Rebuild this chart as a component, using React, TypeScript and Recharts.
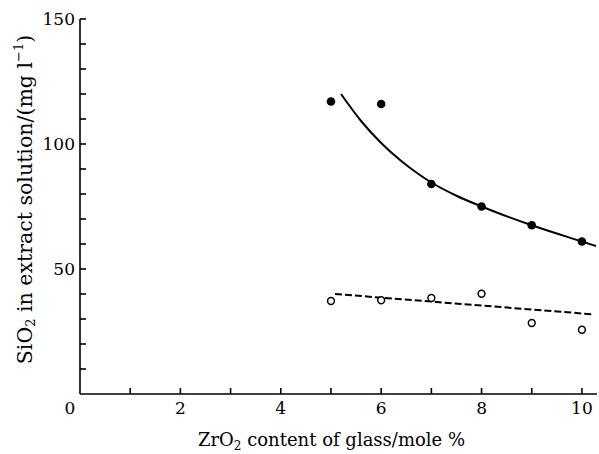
import React from "react";
import { ComposedChart, XAxis, YAxis, Scatter, Line } from "recharts";

// Filled circles (upper series)
const filledX = [5, 6, 7, 8, 9, 10];
const filledY = [117, 116, 84, 75, 67.5, 61];

// Open circles (lower series)
const openX = [5, 6, 7, 8, 9, 10];
const openY = [37.2, 37.5, 38.4, 40.1, 28.4, 25.7];

// Solid fitted curve through upper series
const curveX = [5.2, 5.6, 6.0, 6.4, 6.8, 7.0, 7.5, 8, 9, 10, 10.28];
const curveY = [120, 109.2, 100.4, 93.2, 87.2, 84.6, 79.3, 75, 67.5, 61, 59.2];

// Dashed fitted line through lower series
const dashX = [5.08, 10.2];
const dashY = [40, 31.9];

const xTicks = [0, 1, 2, 3, 4, 5, 6, 7, 8, 9, 10];
const xLabels = [0, 2, 4, 6, 8, 10];
const yTicks = [0, 10, 20, 30, 40, 50, 60, 70, 80, 90, 100, 110, 120, 130, 140, 150];
const yLabels = [50, 100, 150];

const FONT = "'DejaVu Serif', 'Liberation Serif', serif";

const filled = filledX.map((x, i) => ({ x, y: filledY[i] }));
const open = openX.map((x, i) => ({ x, y: openY[i] }));
const curve = curveX.map((x, i) => ({ x, y: curveY[i] }));
const dash = dashX.map((x, i) => ({ x, y: dashY[i] }));

const XTick = (props: any) => {
  const { x, y, payload } = props;
  const v = payload.value;
  const show = xLabels.includes(v);
  return (
    <g>
      {v !== 0 && <line x1={x} y1={y} x2={x} y2={y - 6} stroke="#000" strokeWidth={1.6} />}
      {show && (
        <text x={v === 0 ? x - 10 : x} y={y + 20} textAnchor="middle" fontFamily={FONT} fontSize={17} fill="#000">
          {v}
        </text>
      )}
    </g>
  );
};

const YTick = (props: any) => {
  const { x, y, payload } = props;
  const v = payload.value;
  const show = yLabels.includes(v);
  return (
    <g>
      {v !== 0 && <line x1={x} y1={y} x2={x + 6} y2={y} stroke="#000" strokeWidth={1.6} />}
      {show && (
        <text x={x - 5} y={y} dy="0.35em" textAnchor="end" fontFamily={FONT} fontSize={17} fill="#000">
          {v}
        </text>
      )}
    </g>
  );
};

const XTitle = (props: any) => {
  const { viewBox } = props;
  const cx = viewBox.x + viewBox.width / 2 - 7;
  return (
    <text x={cx} y={viewBox.y + 52} textAnchor="middle" fontFamily={FONT} fontSize={18} fill="#000">
      ZrO<tspan fontSize={12} dy={4}>2</tspan>
      <tspan dy={-4}> content of glass/mole %</tspan>
    </text>
  );
};

const YTitle = (props: any) => {
  const { viewBox } = props;
  const cy = viewBox.y + viewBox.height / 2 - 7;
  const cx = 25;
  return (
    <text
      x={cx}
      y={cy}
      transform={`rotate(-90, ${cx}, ${cy})`}
      textAnchor="middle"
      dominantBaseline="central"
      fontFamily={FONT}
      fontSize={20.5}
      fill="#000"
    >
      SiO<tspan fontSize={13} dy={5}>2</tspan>
      <tspan dy={-5}> in extract solution/(mg l</tspan>
      <tspan fontSize={13} dy={-7}>−1</tspan>
      <tspan dy={7}>)</tspan>
    </text>
  );
};

const FilledDot = (props: any) => <circle cx={props.cx} cy={props.cy} r={4.3} fill="#000" />;
const OpenDot = (props: any) => (
  <circle cx={props.cx} cy={props.cy} r={3.4} fill="#fff" stroke="#000" strokeWidth={1.5} />
);

export default function App() {
  return (
    <div style={{ position: "absolute", left: 0, top: 0, background: "#fff" }}>
      <ComposedChart width={599} height={454} margin={{ top: 19, right: 2, left: 0, bottom: 10 }}>
        <XAxis
          type="number"
          dataKey="x"
          domain={[0, 10.3]}
          ticks={xTicks}
          allowDataOverflow
          tickLine={false}
          tickSize={0}
          tickMargin={0}
          tick={<XTick />}
          axisLine={{ stroke: "#000", strokeWidth: 1.6 }}
          height={50}
          label={<XTitle />}
        />
        <YAxis
          type="number"
          dataKey="y"
          domain={[0, 150]}
          ticks={yTicks}
          allowDataOverflow
          tickLine={false}
          tickSize={0}
          tickMargin={0}
          tick={<YTick />}
          axisLine={{ stroke: "#000", strokeWidth: 1.6 }}
          width={80}
          label={<YTitle />}
        />
        <Line data={curve} dataKey="y" type="monotone" stroke="#000" strokeWidth={2} dot={false} isAnimationActive={false} />
        <Line
          data={dash}
          dataKey="y"
          type="linear"
          stroke="#000"
          strokeWidth={2}
          strokeDasharray="7 3"
          dot={false}
          isAnimationActive={false}
        />
        <Scatter data={filled} dataKey="y" shape={<FilledDot />} isAnimationActive={false} />
        <Scatter data={open} dataKey="y" shape={<OpenDot />} isAnimationActive={false} />
      </ComposedChart>
    </div>
  );
}
